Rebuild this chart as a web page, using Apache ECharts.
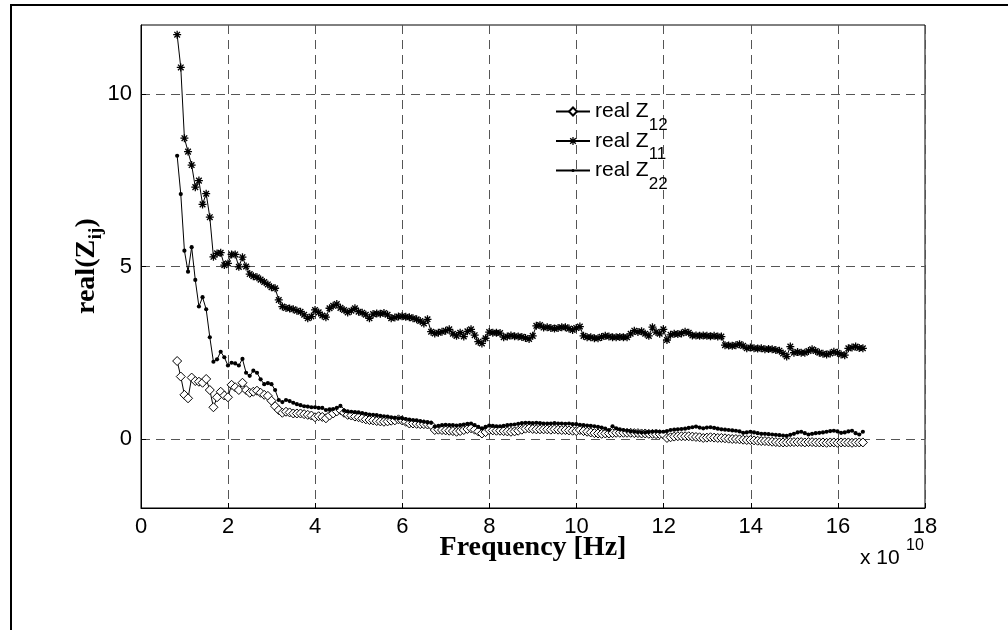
<!DOCTYPE html>
<html>
<head>
<meta charset="utf-8">
<script src="https://cdn.jsdelivr.net/npm/echarts@6/dist/echarts.min.js"></script>
<style>html,body{margin:0;padding:0;background:#fff;}#c{width:1008px;height:630px;}</style>
</head>
<body>
<div id="c"></div>
<script>
// Uniform frequency sweep (units of 1e10 Hz)
const FREQ_START = 0.83;
const FREQ_STEP = 0.0833;
const X_TICKS = [0, 2, 4, 6, 8, 10, 12, 14, 16, 18];
const Y_TICKS = [0, 5, 10];
const SERIES_NAMES = ['real Z12', 'real Z11', 'real Z22'];

const realZ12 = [
 2.26, 1.81, 1.28, 1.18, 1.78, 1.68, 1.66, 1.63, 1.74, 1.42,
 0.92, 1.21, 1.37, 1.26, 1.21, 1.57, 1.50, 1.42, 1.63, 1.42,
 1.34, 1.37, 1.40, 1.34, 1.28, 1.25, 1.11, 0.95, 0.84, 0.76,
 0.79, 0.77, 0.74, 0.74, 0.74, 0.72, 0.70, 0.68, 0.63, 0.66,
 0.64, 0.60, 0.68, 0.74, 0.80, 0.84, 0.76, 0.70, 0.68, 0.65,
 0.63, 0.60, 0.57, 0.55, 0.54, 0.52, 0.51, 0.50, 0.51, 0.53,
 0.54, 0.57, 0.54, 0.50, 0.45, 0.45, 0.44, 0.43, 0.43, 0.42,
 0.40, 0.26, 0.27, 0.26, 0.25, 0.24, 0.23, 0.21, 0.23, 0.26,
 0.29, 0.31, 0.27, 0.22, 0.16, 0.20, 0.26, 0.25, 0.24, 0.24,
 0.23, 0.22, 0.21, 0.22, 0.24, 0.27, 0.30, 0.31, 0.29, 0.28,
 0.28, 0.28, 0.28, 0.27, 0.28, 0.27, 0.26, 0.26, 0.25, 0.24,
 0.23, 0.26, 0.23, 0.21, 0.19, 0.17, 0.16, 0.15, 0.16, 0.16,
 0.17, 0.18, 0.18, 0.18, 0.18, 0.18, 0.17, 0.17, 0.16, 0.16,
 0.15, 0.15, 0.14, 0.14, 0.13, 0.03, 0.05, 0.07, 0.08, 0.08,
 0.08, 0.08, 0.07, 0.06, 0.05, 0.03, 0.04, 0.05, 0.04, 0.03,
 0.03, 0.02, 0.01, 0.00, 0.00, -0.01, -0.02, -0.03, -0.03, -0.04,
 -0.05, -0.06, -0.06, -0.07, -0.08, -0.09, -0.10, -0.10, -0.10, -0.09,
 -0.09, -0.09, -0.09, -0.10, -0.09, -0.09, -0.10, -0.10, -0.10, -0.11,
 -0.10, -0.10, -0.11, -0.10, -0.10, -0.10, -0.11, -0.10, -0.10, -0.10
];

const realZ11 = [
 11.72, 10.77, 8.72, 8.33, 7.94, 7.30, 7.49, 6.80, 7.11, 6.43,
 5.28, 5.38, 5.40, 5.04, 5.09, 5.35, 5.35, 4.99, 5.27, 5.00,
 4.78, 4.72, 4.69, 4.62, 4.55, 4.48, 4.40, 4.37, 4.03, 3.84,
 3.80, 3.78, 3.76, 3.72, 3.69, 3.60, 3.50, 3.55, 3.74, 3.67,
 3.58, 3.53, 3.79, 3.86, 3.91, 3.80, 3.74, 3.67, 3.72, 3.79,
 3.69, 3.66, 3.60, 3.50, 3.62, 3.64, 3.63, 3.65, 3.60, 3.50,
 3.52, 3.55, 3.56, 3.54, 3.53, 3.50, 3.47, 3.42, 3.35, 3.47,
 3.11, 3.06, 3.08, 3.11, 3.14, 3.18, 3.05, 2.99, 3.08, 2.97,
 3.12, 3.18, 3.01, 2.82, 2.77, 2.92, 3.10, 3.08, 3.08, 3.07,
 2.95, 2.97, 3.00, 2.98, 2.97, 2.96, 2.93, 2.90, 2.99, 3.28,
 3.30, 3.23, 3.24, 3.22, 3.20, 3.22, 3.24, 3.24, 3.20, 3.16,
 3.22, 3.26, 2.99, 2.95, 2.95, 2.92, 2.92, 2.96, 2.99, 2.97,
 2.95, 2.95, 2.96, 2.95, 2.95, 3.05, 3.14, 3.10, 3.12, 3.05,
 2.99, 3.24, 3.10, 3.05, 3.18, 2.87, 3.02, 3.05, 3.04, 3.06,
 3.11, 3.08, 3.00, 3.00, 2.99, 3.00, 2.99, 2.98, 2.99, 2.97,
 2.97, 2.72, 2.71, 2.70, 2.72, 2.75, 2.70, 2.63, 2.65, 2.63,
 2.62, 2.63, 2.60, 2.61, 2.60, 2.58, 2.56, 2.48, 2.39, 2.68,
 2.50, 2.52, 2.50, 2.50, 2.55, 2.60, 2.55, 2.50, 2.47, 2.45,
 2.48, 2.53, 2.50, 2.45, 2.43, 2.63, 2.65, 2.68, 2.64, 2.63
];

const realZ22 = [
 8.21, 7.10, 5.46, 4.85, 5.56, 4.61, 3.84, 4.11, 3.76, 2.95,
 2.24, 2.31, 2.53, 2.37, 2.13, 2.21, 2.19, 2.13, 2.32, 1.92,
 1.83, 1.98, 1.92, 1.73, 1.59, 1.62, 1.59, 1.42, 1.13, 1.07,
 1.13, 1.10, 1.05, 1.01, 0.98, 0.95, 0.94, 0.92, 0.92, 0.90,
 0.90, 0.84, 0.86, 0.87, 0.90, 0.96, 0.82, 0.80, 0.79, 0.78,
 0.77, 0.75, 0.73, 0.71, 0.70, 0.69, 0.67, 0.66, 0.65, 0.63,
 0.61, 0.60, 0.60, 0.58, 0.56, 0.55, 0.54, 0.52, 0.50, 0.48,
 0.47, 0.36, 0.38, 0.40, 0.41, 0.40, 0.40, 0.39, 0.40, 0.42,
 0.44, 0.45, 0.40, 0.35, 0.31, 0.35, 0.39, 0.38, 0.37, 0.37,
 0.38, 0.40, 0.41, 0.42, 0.44, 0.46, 0.47, 0.47, 0.46, 0.47,
 0.46, 0.45, 0.45, 0.45, 0.46, 0.45, 0.45, 0.44, 0.45, 0.43,
 0.43, 0.41, 0.40, 0.39, 0.38, 0.37, 0.35, 0.33, 0.30, 0.26,
 0.37, 0.31, 0.28, 0.26, 0.24, 0.22, 0.21, 0.20, 0.19, 0.19,
 0.20, 0.21, 0.22, 0.21, 0.21, 0.23, 0.26, 0.27, 0.28, 0.29,
 0.30, 0.32, 0.34, 0.36, 0.33, 0.31, 0.33, 0.34, 0.32, 0.30,
 0.28, 0.27, 0.26, 0.25, 0.24, 0.22, 0.18, 0.19, 0.21, 0.19,
 0.17, 0.15, 0.15, 0.14, 0.13, 0.12, 0.11, 0.10, 0.09, 0.12,
 0.15, 0.19, 0.21, 0.17, 0.13, 0.15, 0.17, 0.18, 0.19, 0.21,
 0.23, 0.24, 0.22, 0.18, 0.19, 0.22, 0.24, 0.17, 0.13, 0.21
];

const freq = realZ11.map((_, i) => +(FREQ_START + i * FREQ_STEP).toFixed(4));
const pairs = vals => vals.map((v, i) => [freq[i], v]);

const ASTERISK = 'path://M0 4.2H10V5.8H0Z M4.2 0H5.8V10H4.2Z M0.9 2.1L2.1 0.9L9.1 7.9L7.9 9.1Z M7.9 0.9L9.1 2.1L2.1 9.1L0.9 7.9Z';
const DOT = 'path://M0 0M10 10M5 3.1A1.9 1.9 0 1 1 5 6.9A1.9 1.9 0 1 1 5 3.1Z';

const SANS = '"Liberation Sans", Arial, sans-serif';
const SERIF = '"Liberation Serif", "Times New Roman", serif';
const gridDash = { color: '#555', width: 1, type: [9, 6] };

const chart = echarts.init(document.getElementById('c'), null, { renderer: 'canvas' });

function lineSeries(name, vals, symbol, size, itemStyle) {
  return {
    name: name, type: 'line', data: pairs(vals),
    symbol: symbol, symbolSize: size, showAllSymbol: true,
    lineStyle: { color: '#000', width: 1 },
    itemStyle: itemStyle,
    emphasis: { disabled: true }, animation: false, clip: true
  };
}

chart.setOption({
  backgroundColor: '#fff',
  animation: false,
  grid: { left: 141, top: 25, width: 784, height: 483, show: true, borderColor: '#000', borderWidth: 1, backgroundColor: 'transparent' },
  xAxis: {
    type: 'value', min: X_TICKS[0], max: X_TICKS[X_TICKS.length - 1], interval: 2,
    axisLine: { show: true, onZero: false, lineStyle: { color: '#000', width: 1 } },
    axisTick: { show: true, inside: true, length: 5, lineStyle: { color: '#000' } },
    axisLabel: { color: '#000', fontSize: 22, fontFamily: SANS, margin: 8 },
    splitLine: { show: true, lineStyle: gridDash }
  },
  yAxis: {
    type: 'value', min: -2, max: 12,
    axisLine: { show: true, onZero: false, lineStyle: { color: '#000', width: 1 } },
    axisTick: { show: true, inside: true, length: 5, customValues: Y_TICKS, lineStyle: { color: '#000' } },
    axisLabel: { color: '#000', fontSize: 22, fontFamily: SANS, margin: 9, customValues: Y_TICKS },
    splitLine: { show: true, lineStyle: gridDash }
  },
  legend: {
    orient: 'vertical', left: 550, top: 96, itemWidth: 34, itemHeight: 10, itemGap: -3,
    selectedMode: false, data: SERIES_NAMES,
    formatter: function (name) { return '{a|real Z}{s|' + name.slice(6) + '}'; },
    textStyle: {
      rich: {
        a: { fontSize: 21, fontFamily: SANS, color: '#000', lineHeight: 44 },
        s: { fontSize: 17, fontFamily: SANS, color: '#000', verticalAlign: 'bottom' }
      }
    }
  },
  series: [
    lineSeries(SERIES_NAMES[0], realZ12, 'diamond', 9, { color: '#fff', borderColor: '#000', borderWidth: 1 }),
    lineSeries(SERIES_NAMES[1], realZ11, ASTERISK, 8, { color: '#000' }),
    lineSeries(SERIES_NAMES[2], realZ22, DOT, 11, { color: '#000' })
  ],
  graphic: [
    { type: 'rect', silent: true, shape: { x: 11, y: 5, width: 1300, height: 900 }, style: { fill: 'none', stroke: '#000', lineWidth: 2 } },
    { type: 'text', silent: true, x: 533, y: 548, style: { text: 'Frequency [Hz]', fontSize: 28, fontWeight: 'bold', fontFamily: SERIF, fill: '#000', align: 'center', verticalAlign: 'middle' } },
    { type: 'group', silent: true, x: 87, y: 266, rotation: Math.PI / 2, children: [
      { type: 'text', x: -48, y: 0, style: { text: 'real(Z', fontSize: 28, fontWeight: 'bold', fontFamily: SERIF, fill: '#000', align: 'left', verticalAlign: 'middle' } },
      { type: 'text', x: 26.8, y: 9, style: { text: 'ij', fontSize: 19, fontWeight: 'bold', fontFamily: SERIF, fill: '#000', align: 'left', verticalAlign: 'middle' } },
      { type: 'text', x: 38.4, y: 0, style: { text: ')', fontSize: 28, fontWeight: 'bold', fontFamily: SERIF, fill: '#000', align: 'left', verticalAlign: 'middle' } }
    ] },
    { type: 'text', silent: true, x: 860, y: 558, style: { text: 'x 10', fontSize: 21, fontFamily: SANS, fill: '#000', align: 'left', verticalAlign: 'middle' } },
    { type: 'text', silent: true, x: 906, y: 546, style: { text: '10', fontSize: 16, fontFamily: SANS, fill: '#000', align: 'left', verticalAlign: 'middle' } }
  ]
});
</script>
</body>
</html>
